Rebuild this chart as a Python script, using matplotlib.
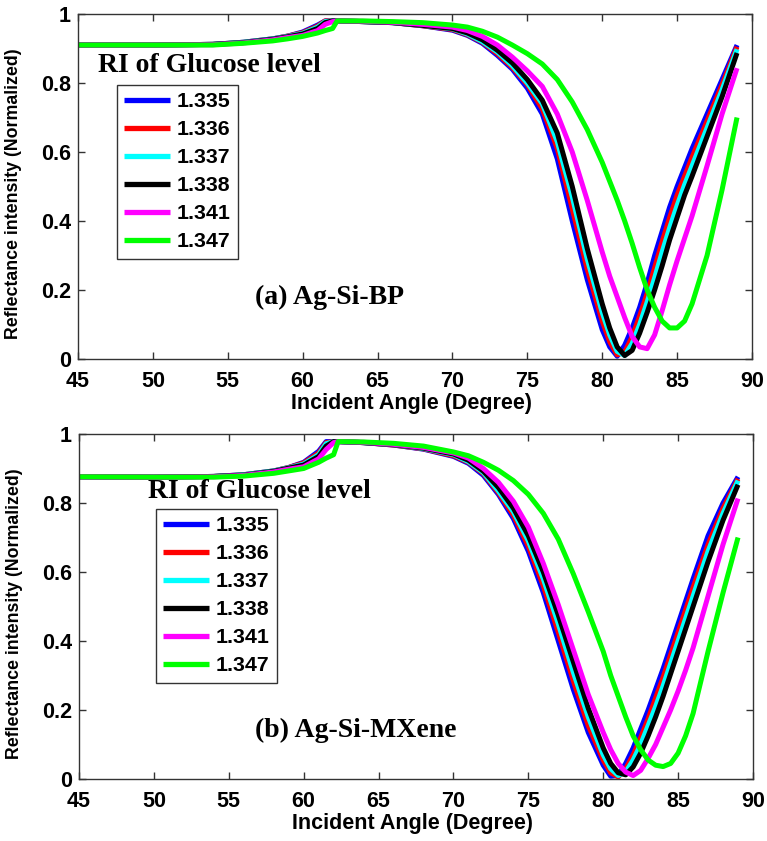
import matplotlib
matplotlib.use("Agg")
import matplotlib.pyplot as plt
from matplotlib.ticker import FuncFormatter

# incident angle grid (degrees), shared by every curve
angle = [45, 50, 54, 56, 58, 59, 60, 61, 61.5, 62,
         62.3, 64, 66, 68, 70, 71, 72, 73, 74, 75,
         76, 77, 78, 79, 80, 80.5, 81, 81.5, 82, 82.5,
         83, 83.5, 84, 84.5, 85, 85.5, 86, 87, 88, 89]

ri_labels = ["1.335", "1.336", "1.337", "1.338", "1.341", "1.347"]
line_colors = ["#0000ff", "#ff0000", "#00ffff", "#000000", "#ff00ff", "#00ff00"]

# (a) Ag-Si-BP reflectance
bp_1335 = [0.910, 0.910, 0.912, 0.918, 0.928, 0.936, 0.948, 0.968, 0.980, 0.980,
           0.980, 0.978, 0.975, 0.966, 0.953, 0.938, 0.915, 0.880, 0.840, 0.785,
           0.710, 0.580, 0.400, 0.230, 0.085, 0.035, 0.008, 0.040, 0.090, 0.150,
           0.220, 0.300, 0.370, 0.440, 0.500, 0.555, 0.610, 0.710, 0.810, 0.910]
bp_1336 = [0.910, 0.910, 0.912, 0.918, 0.928, 0.936, 0.946, 0.965, 0.980, 0.980,
           0.980, 0.978, 0.975, 0.966, 0.955, 0.940, 0.918, 0.885, 0.845, 0.795,
           0.725, 0.610, 0.435, 0.260, 0.110, 0.050, 0.012, 0.020, 0.065, 0.125,
           0.190, 0.265, 0.340, 0.410, 0.475, 0.530, 0.585, 0.690, 0.795, 0.905]
bp_1337 = [0.910, 0.910, 0.912, 0.918, 0.928, 0.935, 0.944, 0.962, 0.978, 0.980,
           0.980, 0.978, 0.975, 0.967, 0.957, 0.942, 0.920, 0.890, 0.850, 0.800,
           0.740, 0.630, 0.470, 0.290, 0.135, 0.070, 0.022, 0.010, 0.045, 0.100,
           0.165, 0.235, 0.310, 0.380, 0.445, 0.505, 0.560, 0.670, 0.780, 0.898]
bp_1338 = [0.910, 0.910, 0.912, 0.917, 0.927, 0.934, 0.942, 0.958, 0.975, 0.980,
           0.980, 0.978, 0.975, 0.967, 0.958, 0.945, 0.925, 0.895, 0.858, 0.810,
           0.750, 0.655, 0.500, 0.320, 0.160, 0.090, 0.035, 0.010, 0.025, 0.075,
           0.135, 0.200, 0.270, 0.345, 0.410, 0.475, 0.530, 0.645, 0.760, 0.887]
bp_1341 = [0.910, 0.910, 0.911, 0.916, 0.925, 0.932, 0.938, 0.952, 0.970, 0.978,
           0.980, 0.979, 0.976, 0.970, 0.962, 0.952, 0.935, 0.910, 0.875, 0.835,
           0.790, 0.710, 0.600, 0.460, 0.310, 0.240, 0.180, 0.120, 0.065, 0.035,
           0.030, 0.070, 0.140, 0.215, 0.285, 0.350, 0.415, 0.560, 0.710, 0.843]
bp_1347 = [0.910, 0.910, 0.910, 0.915, 0.922, 0.928, 0.935, 0.945, 0.952, 0.958,
           0.980, 0.980, 0.978, 0.975, 0.968, 0.962, 0.950, 0.933, 0.910, 0.885,
           0.855, 0.810, 0.745, 0.665, 0.570, 0.515, 0.460, 0.400, 0.335, 0.265,
           0.200, 0.150, 0.110, 0.090, 0.090, 0.110, 0.160, 0.300, 0.490, 0.700]

# (b) Ag-Si-MXene reflectance
mx_1335 = [0.876, 0.875, 0.877, 0.882, 0.893, 0.903, 0.918, 0.950, 0.978, 0.978,
           0.978, 0.975, 0.968, 0.956, 0.935, 0.915, 0.880, 0.825, 0.755, 0.660,
           0.540, 0.400, 0.260, 0.135, 0.040, 0.008, 0.010, 0.045, 0.090, 0.145,
           0.200, 0.260, 0.320, 0.385, 0.450, 0.515, 0.580, 0.705, 0.800, 0.876]
mx_1336 = [0.876, 0.875, 0.877, 0.882, 0.893, 0.903, 0.916, 0.945, 0.975, 0.978,
           0.978, 0.975, 0.968, 0.957, 0.937, 0.918, 0.885, 0.830, 0.765, 0.675,
           0.560, 0.425, 0.285, 0.155, 0.055, 0.018, 0.006, 0.030, 0.070, 0.120,
           0.175, 0.235, 0.295, 0.360, 0.425, 0.490, 0.555, 0.680, 0.785, 0.870]
mx_1337 = [0.876, 0.875, 0.877, 0.882, 0.893, 0.902, 0.913, 0.940, 0.972, 0.978,
           0.978, 0.975, 0.969, 0.958, 0.940, 0.920, 0.888, 0.835, 0.775, 0.690,
           0.580, 0.450, 0.310, 0.180, 0.070, 0.030, 0.010, 0.020, 0.055, 0.100,
           0.155, 0.210, 0.270, 0.335, 0.400, 0.465, 0.530, 0.660, 0.770, 0.865]
mx_1338 = [0.876, 0.875, 0.877, 0.881, 0.892, 0.901, 0.910, 0.935, 0.965, 0.978,
           0.978, 0.975, 0.969, 0.959, 0.942, 0.924, 0.892, 0.845, 0.785, 0.705,
           0.600, 0.475, 0.340, 0.205, 0.090, 0.045, 0.018, 0.012, 0.035, 0.075,
           0.125, 0.180, 0.240, 0.305, 0.370, 0.435, 0.500, 0.630, 0.750, 0.853]
mx_1341 = [0.876, 0.875, 0.876, 0.880, 0.890, 0.898, 0.905, 0.928, 0.955, 0.975,
           0.978, 0.976, 0.970, 0.961, 0.945, 0.930, 0.900, 0.860, 0.805, 0.730,
           0.625, 0.505, 0.375, 0.245, 0.135, 0.085, 0.045, 0.020, 0.010, 0.025,
           0.060, 0.100, 0.150, 0.200, 0.255, 0.315, 0.380, 0.530, 0.680, 0.813]
mx_1347 = [0.876, 0.875, 0.875, 0.878, 0.886, 0.893, 0.900, 0.918, 0.930, 0.940,
           0.978, 0.977, 0.973, 0.965, 0.948, 0.937, 0.918, 0.895, 0.865, 0.825,
           0.770, 0.695, 0.595, 0.485, 0.370, 0.300, 0.240, 0.180, 0.125, 0.085,
           0.055, 0.040, 0.036, 0.045, 0.075, 0.125, 0.190, 0.370, 0.540, 0.700]

panels = [
    ([bp_1335, bp_1336, bp_1337, bp_1338, bp_1341, bp_1347], "(a) Ag-Si-BP"),
    ([mx_1335, mx_1336, mx_1337, mx_1338, mx_1341, mx_1347], "(b) Ag-Si-MXene"),
]

W, H = 767, 841
fig = plt.figure(figsize=(W / 100, H / 100), dpi=100)
fig.patch.set_facecolor("white")

# axes boxes in pixel coordinates: left, top, right, bottom
boxes = [(78, 14, 752, 359), (79, 434, 753, 779)]
# legend title and legend frame positions (pixels)
title_pos = [(98, 66), (148, 492)]
legend_pos = [(117, 85), (156, 509)]
note_pos = [(255, 297), (255, 730)]

sans = "Liberation Sans"
serif = "Liberation Serif"
fmt = FuncFormatter(lambda v, p: ("%g" % v))

for (series, note), (l, t, r, b), tp, lp, npos in zip(panels, boxes, title_pos,
                                                       legend_pos, note_pos):
    ax = fig.add_axes([l / W, 1 - b / H, (r - l) / W, (b - t) / H])
    for vals, lab, col in zip(series, ri_labels, line_colors):
        ax.plot(angle, vals, color=col, lw=3.6, label=lab,
                solid_joinstyle="round", solid_capstyle="butt")
    ax.set_xlim(45, 90)
    ax.set_ylim(0, 1)
    ax.set_xticks(range(45, 91, 5))
    ax.set_yticks([0, 0.2, 0.4, 0.6, 0.8, 1])
    ax.yaxis.set_major_formatter(fmt)
    ax.tick_params(direction="in", top=True, right=True, length=5, width=1,
                   color="#333333", pad=5)
    ax.tick_params(axis="x", pad=8.5)
    for lbl in ax.get_xticklabels() + ax.get_yticklabels():
        lbl.set_fontfamily(sans)
        lbl.set_fontweight("bold")
        lbl.set_fontsize(15.5)
    for sp in ax.spines.values():
        sp.set_color("#333333")
        sp.set_linewidth(1)

    ax.set_xlabel("Incident Angle (Degree)", fontfamily=sans, fontweight="bold",
                  fontsize=15.5)
    ax.xaxis.set_label_coords(0.495, -0.1)
    ax.xaxis.label.set_va("top")
    ax.set_ylabel("Reflectance intensity (Normalized)", fontfamily=sans,
                  fontweight="bold", fontsize=12.8)
    ax.yaxis.set_label_coords(-0.083, 0.48)

    fig.text(tp[0] / W, 1 - tp[1] / H, "RI of Glucose level", fontfamily=serif,
             fontweight="bold", fontsize=20, ha="left", va="center")
    ax.text(npos[0] / W, 1 - npos[1] / H, note, transform=fig.transFigure,
            fontfamily=serif, fontweight="bold", fontsize=20, ha="left",
            va="center")

    leg = ax.legend(loc="upper left", bbox_to_anchor=(lp[0] / W, 1 - lp[1] / H),
                    bbox_transform=fig.transFigure, borderaxespad=0,
                    prop={"family": sans, "weight": "bold", "size": 15.4},
                    handlelength=2.15, handletextpad=0.3, labelspacing=0.42,
                    borderpad=0.35, fancybox=False, framealpha=1)
    leg.get_frame().set_edgecolor("#333333")
    leg.get_frame().set_linewidth(1)
    for h in leg.get_lines():
        h.set_linewidth(3.8)

fig.savefig("out.png", dpi=100, facecolor="white")
